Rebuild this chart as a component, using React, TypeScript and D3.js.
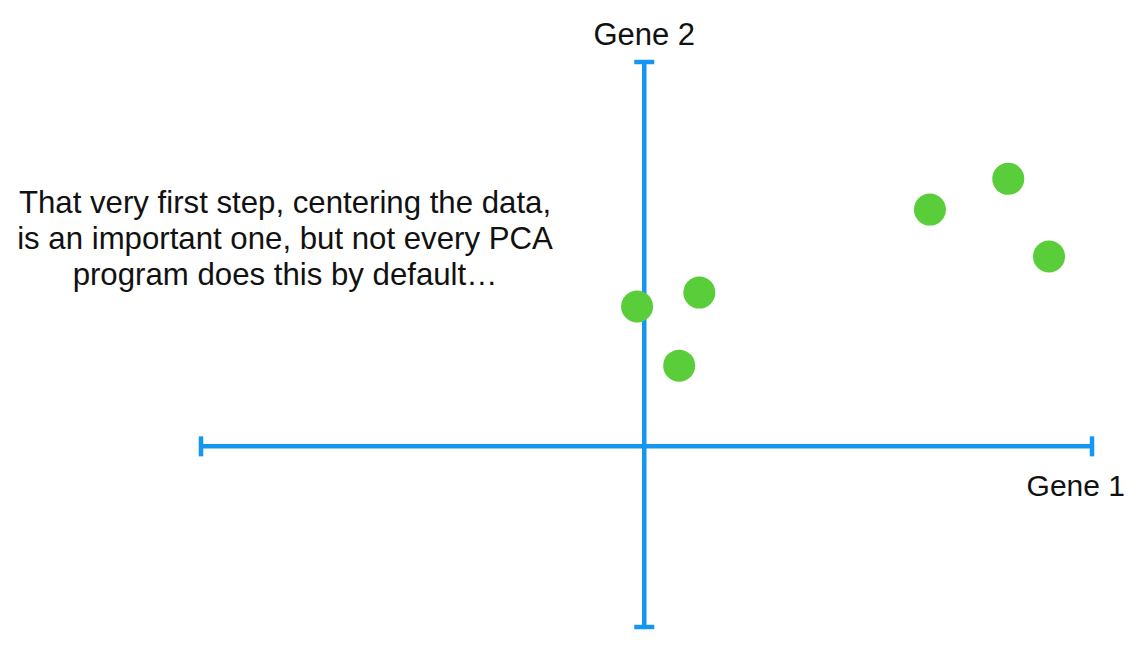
import React, { useRef, useEffect } from 'react';
import * as d3 from 'd3';

// gene expression, centered data
const gene1: number[] = [-0.16, 1.23, 0.78, 6.38, 8.13, 9.04];
const gene2: number[] = [3.64, 4.0, 2.1, 6.16, 6.96, 4.94];

const xDomain: [number, number] = [-9.9, 10];
const yDomain: [number, number] = [-4.7, 10];

const axisLabels = { x: 'Gene 1', y: 'Gene 2' };
const noteLines: string[] = [
  'That very first step, centering the data,',
  'is an important one, but not every PCA',
  'program does this by default…',
];

const BLUE = '#1596f0';
const GREEN = '#5acd3b';
const FONT = '"Liberation Sans", Arial, Helvetica, sans-serif';

export default function App() {
  const svgRef = useRef<SVGSVGElement>(null);
  const width = 1141;
  const height = 646;

  useEffect(() => {
    const svg = d3.select(svgRef.current);
    svg.selectAll('*').remove();

    const x = d3.scaleLinear().domain(xDomain).range([201, 1092]);
    const y = d3.scaleLinear().domain(yDomain).range([627, 62]);

    const g = svg.append('g');

    // horizontal axis (Gene 1)
    g.append('line')
      .attr('x1', x(xDomain[0]))
      .attr('x2', x(xDomain[1]))
      .attr('y1', y(0))
      .attr('y2', y(0))
      .attr('stroke', BLUE)
      .attr('stroke-width', 4.5);

    // end caps
    xDomain.forEach((v) => {
      g.append('line')
        .attr('x1', x(v))
        .attr('x2', x(v))
        .attr('y1', y(0) - 10)
        .attr('y2', y(0) + 10)
        .attr('stroke', BLUE)
        .attr('stroke-width', 4.5);
    });

    // vertical axis (Gene 2)
    g.append('line')
      .attr('x1', x(0))
      .attr('x2', x(0))
      .attr('y1', y(yDomain[0]))
      .attr('y2', y(yDomain[1]))
      .attr('stroke', BLUE)
      .attr('stroke-width', 4.5);

    yDomain.forEach((v) => {
      g.append('line')
        .attr('x1', x(0) - 10)
        .attr('x2', x(0) + 10)
        .attr('y1', y(v))
        .attr('y2', y(v))
        .attr('stroke', BLUE)
        .attr('stroke-width', 4.5);
    });

    // axis labels
    g.append('text')
      .attr('x', x(0))
      .attr('y', y(yDomain[1]) - 17)
      .attr('text-anchor', 'middle')
      .attr('font-family', FONT)
      .attr('font-size', 31)
      .attr('fill', '#111')
      .text(axisLabels.y);

    g.append('text')
      .attr('x', 1125)
      .attr('y', y(0) + 50)
      .attr('text-anchor', 'end')
      .attr('font-family', FONT)
      .attr('font-size', 30)
      .attr('fill', '#111')
      .text(axisLabels.x);

    // points
    g.selectAll('circle')
      .data(gene1.map((v, i) => ({ g1: v, g2: gene2[i] })))
      .join('circle')
      .attr('cx', (d) => x(d.g1))
      .attr('cy', (d) => y(d.g2))
      .attr('r', 16)
      .attr('fill', GREEN);

    // annotation
    const note = g.append('text')
      .attr('text-anchor', 'middle')
      .attr('font-family', FONT)
      .attr('font-size', 31.2)
      .attr('fill', '#111');
    noteLines.forEach((line, i) => {
      note.append('tspan')
        .attr('x', 285)
        .attr('y', 213 + i * 36)
        .text(line);
    });
  }, []);

  return (
    <svg
      ref={svgRef}
      width={width}
      height={height}
      style={{ position: 'absolute', left: 0, top: 0, background: '#fff' }}
    />
  );
}
